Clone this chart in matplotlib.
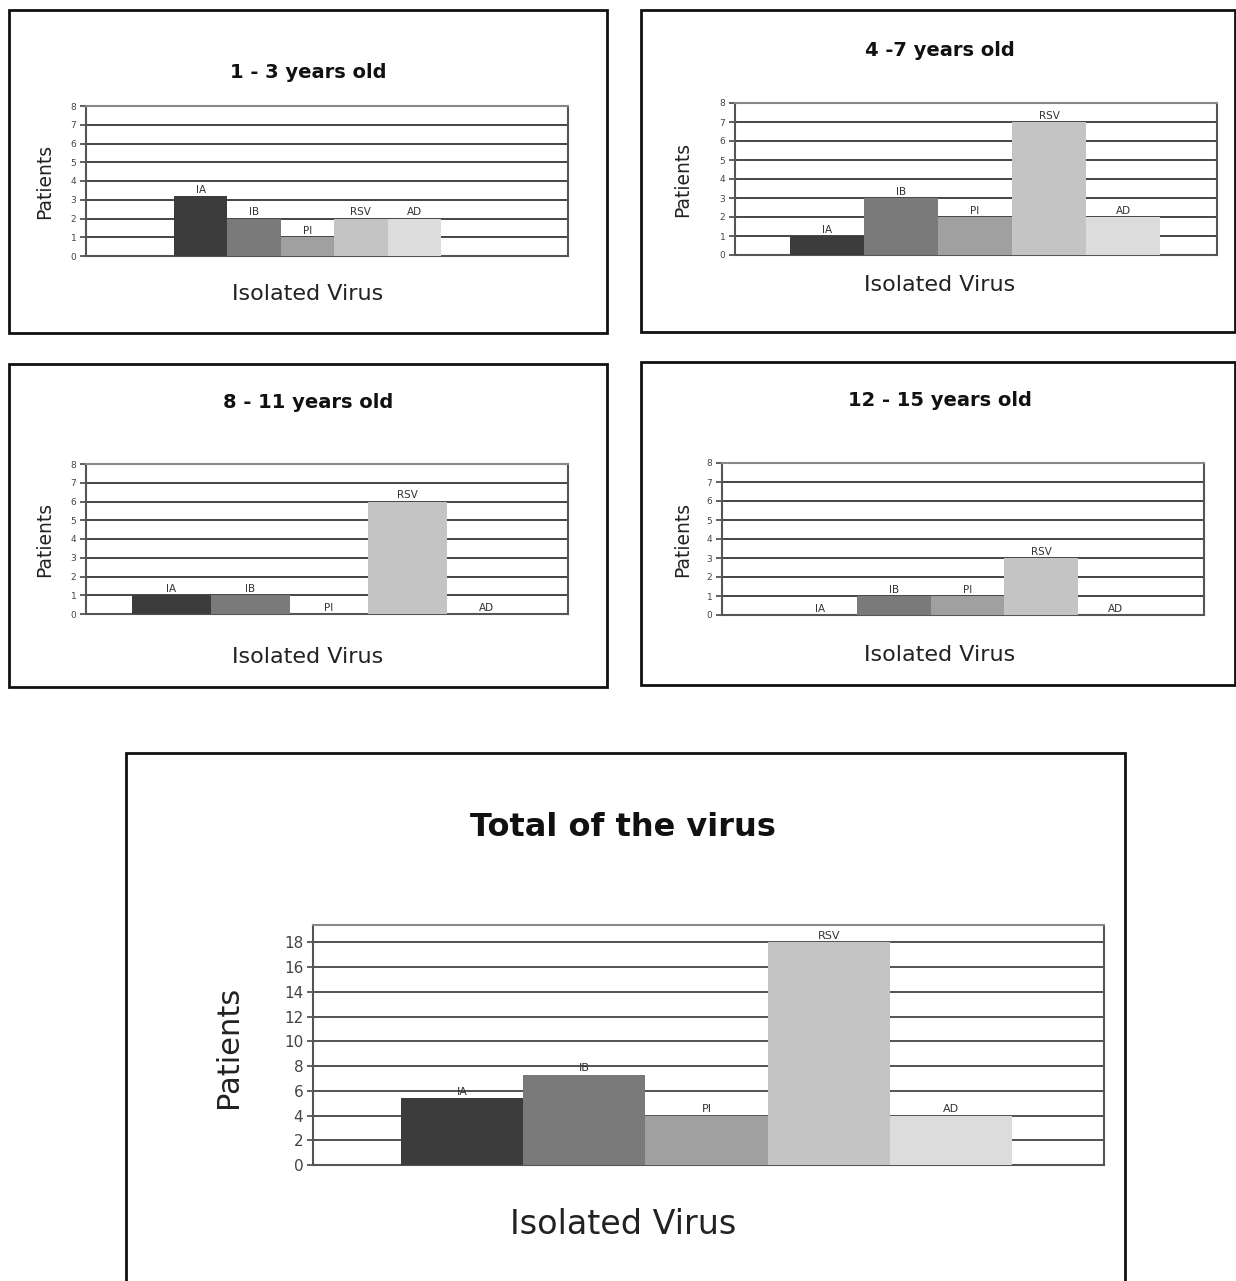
import matplotlib
matplotlib.use("Agg")
import matplotlib.pyplot as plt
from matplotlib.patches import Rectangle

# ---------------- data ----------------
viruses = ["IA", "IB", "PI", "RSV", "AD"]
age_1_3 = [3.2, 2, 1, 2, 2]
age_4_7 = [1, 3, 2, 7, 2]
age_8_11 = [1, 1, 0, 6, 0]
age_12_15 = [0, 1, 1, 3, 0]
total = [5.4, 7.3, 4, 18, 4]
titles = ["1 - 3 years old", "4 -7 years old", "8 - 11 years old", "12 - 15 years old", "Total of the virus"]
small_ticks = [0, 1, 2, 3, 4, 5, 6, 7, 8]
total_ticks = [0, 2, 4, 6, 8, 10, 12, 14, 16, 18]
colors = ["#3c3c3c", "#7a7a7a", "#a0a0a0", "#c4c4c4", "#dcdcdc"]

W, H = 1236, 1281
fig = plt.figure(figsize=(W / 100, H / 100), dpi=100)
fig.patch.set_facecolor("white")


def fx(px):
    return px / W


def fy(py):
    return 1 - py / H


def box(x0, y0, x1, y1):
    fig.patches.append(Rectangle((fx(x0), fy(y1)), fx(x1) - fx(x0), fy(y0) - fy(y1),
                                 transform=fig.transFigure, fill=False,
                                 edgecolor="#111111", linewidth=2))


# layout: box, axes (left,right,top,bottom), bar start px, bar width px, title y, xlabel y, ylabel x
panels = [
    dict(vals=age_1_3, box=(9, 10, 607, 333), ax=(86, 568, 106, 256), start=174, bw=53.4,
         ty=73, tx=308, xly=294, xlx=308, ylx=45, big=False),
    dict(vals=age_4_7, box=(641, 10, 1235, 332), ax=(735, 1217, 103, 255), start=790, bw=74,
         ty=51, tx=940, xly=285, xlx=940, ylx=683, big=False),
    dict(vals=age_8_11, box=(9, 364, 607, 687), ax=(86, 568, 464, 614), start=132, bw=78.8,
         ty=403, tx=308, xly=657, xlx=308, ylx=45, big=False),
    dict(vals=age_12_15, box=(641, 362, 1235, 685), ax=(722, 1204, 463, 615), start=783, bw=73.8,
         ty=401, tx=940, xly=655, xlx=940, ylx=683, big=False),
    dict(vals=total, box=(126, 753, 1125, 1290), ax=(313, 1104, 925, 1165), start=401, bw=122.2,
         ty=827, tx=623, xly=1225, xlx=623, ylx=228, big=True),
]

for i, p in enumerate(panels):
    box(*p["box"])
    l, r, t, b = p["ax"]
    ax = fig.add_axes([fx(l), fy(b), fx(r) - fx(l), fy(t) - fy(b)])
    xs = list(range(len(viruses)))
    ax.bar(xs, p["vals"], width=1.0, align="edge", color=colors, zorder=3, linewidth=0)
    x0 = -(p["start"] - l) / p["bw"]
    x1 = (r - p["start"]) / p["bw"]
    ax.set_xlim(x0, x1)
    if p["big"]:
        ax.set_ylim(0, 19.4)
        ax.set_yticks(total_ticks)
        tfs, lfs, gl = 11, 8, 1.3
    else:
        ax.set_ylim(0, 8)
        ax.set_yticks(small_ticks)
        tfs, lfs, gl = 6.5, 7.5, 1.4
    ax.set_xticks([])
    ax.yaxis.grid(True, color="#444444", linewidth=gl, zorder=1)
    ax.set_axisbelow(True)
    ax.tick_params(axis="y", labelsize=tfs, colors="#444444", length=4, width=1.2, pad=3)
    for s in ax.spines.values():
        s.set_color("#555555")
        s.set_linewidth(1.5)
    ax.spines["top"].set_color("#888888")
    for xi, v, name in zip(xs, p["vals"], viruses):
        ax.annotate(name, (xi + 0.5, v), xytext=(0, 1), textcoords="offset points",
                    ha="center", va="bottom", fontsize=lfs, color="#333333", zorder=4)
    # texts
    if p["big"]:
        fig.text(fx(p["tx"]), fy(p["ty"]), titles[i], ha="center", va="center",
                 fontsize=23, fontweight="bold", color="#111111")
        fig.text(fx(p["xlx"]), fy(p["xly"]), "Isolated Virus", ha="center", va="center",
                 fontsize=24, color="#222222")
        fig.text(fx(p["ylx"]), fy((t + b) / 2 + 2), "Patients", ha="center", va="center",
                 rotation=90, fontsize=22, color="#222222")
    else:
        fig.text(fx(p["tx"]), fy(p["ty"]), titles[i], ha="center", va="center",
                 fontsize=14, fontweight="bold", color="#111111")
        fig.text(fx(p["xlx"]), fy(p["xly"]), "Isolated Virus", ha="center", va="center",
                 fontsize=16, color="#222222")
        fig.text(fx(p["ylx"]), fy((t + b) / 2), "Patients", ha="center", va="center",
                 rotation=90, fontsize=13.5, color="#222222")

fig.savefig("out.png", dpi=100, facecolor="white")
